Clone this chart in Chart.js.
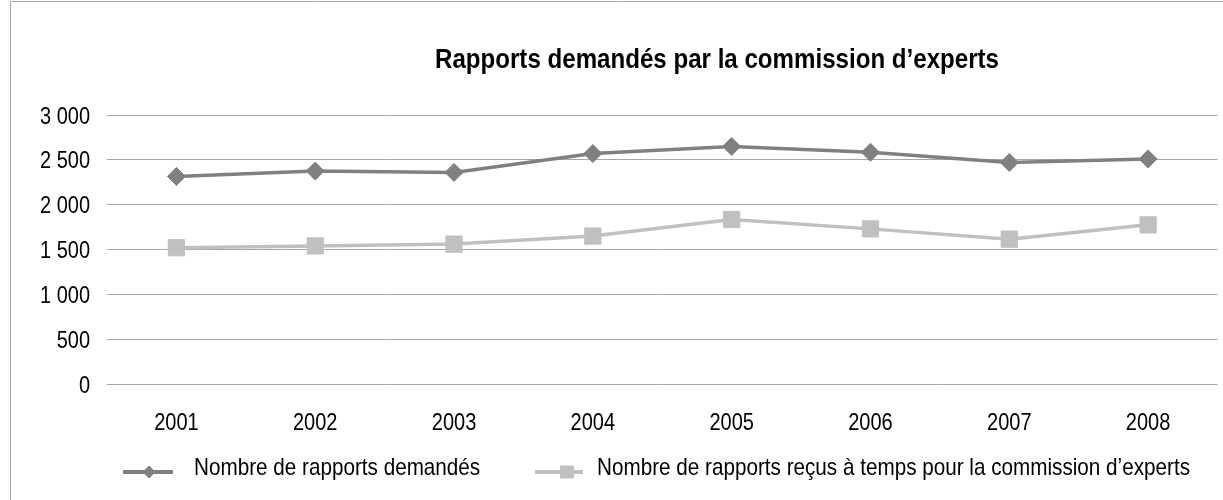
<!DOCTYPE html>
<html><head><meta charset="utf-8">
<script src="https://cdn.jsdelivr.net/npm/chart.js@4.4.0/dist/chart.umd.min.js"></script>
<style>html,body{margin:0;padding:0;overflow:hidden;background:#fff}#wrap{position:relative;width:1230px;height:500px}</style>
</head><body><div id="wrap"><canvas id="c"></canvas></div>
<script>
const FONT = '"Liberation Sans", Arial, sans-serif';
const chartTitle = 'Rapports demandés par la commission d’experts';
const years = ['2001','2002','2003','2004','2005','2006','2007','2008'];
const demandes = [2315, 2375, 2360, 2570, 2650, 2585, 2470, 2510];
const recus = [1520, 1540, 1560, 1650, 1835, 1730, 1615, 1775];
const seriesLabels = ['Nombre de rapports demandés', 'Nombre de rapports reçus à temps pour la commission d’experts'];
const yMin = 0, yMax = 3000, yStep = 500;

function fmt(v){ return String(v).replace(/\B(?=(\d{3})+(?!\d))/g, ' '); }

function narrowText(ctx, text, x, y, align, font, sx){
  ctx.save();
  ctx.font = font;
  ctx.translate(x, y);
  ctx.scale(sx, 1);
  ctx.textAlign = align;
  ctx.textBaseline = 'alphabetic';
  ctx.fillStyle = '#000';
  ctx.fillText(text, 0, 0);
  ctx.restore();
}
function fitScale(ctx, text, font, target){
  ctx.save(); ctx.font = font; const w = ctx.measureText(text).width; ctx.restore();
  return target / w;
}

const framePlugin = {
  id: 'frame',
  beforeDraw(chart){
    const ctx = chart.ctx;
    ctx.save();
    ctx.fillStyle = '#fff';
    ctx.fillRect(0,0,chart.width,chart.height);
    ctx.strokeStyle = '#a6a6a6';
    ctx.lineWidth = 1;
    ctx.beginPath();
    ctx.moveTo(10.5, 500); ctx.lineTo(10.5, 1.5); ctx.lineTo(chart.width, 1.5);
    ctx.stroke();
    ctx.restore();
  },
  afterDraw(chart){
    const ctx = chart.ctx;
    const tickFont = '24px ' + FONT;
    const sxTick = fitScale(ctx, '3 000', tickFont, 50);
    // y tick labels from the library's scale
    const ys = chart.scales.y;
    ys.ticks.forEach(t => {
      const py = ys.getPixelForValue(t.value);
      narrowText(ctx, fmt(t.value), 90, py + 8.5, 'right', tickFont, sxTick);
    });
    const xs = chart.scales.x;
    xs.ticks.forEach((t, i) => {
      const px = xs.getPixelForTick(i);
      narrowText(ctx, chart.data.labels[t.value], px, 430, 'center', tickFont, sxTick);
    });
    // title
    const tFont = 'bold 27px ' + FONT;
    const sxT = fitScale(ctx, chartTitle, tFont, 564);
    narrowText(ctx, chartTitle, 717, 68, 'center', tFont, sxT);
    // legend
    const lFont = '24px ' + FONT;
    const sxL = fitScale(ctx, seriesLabels[1], lFont, 593);
    const items = [
      {x0: 123, x1: 173, cx: 149, tx: 194},
      {x0: 535, x1: 583, cx: 567, tx: 597}
    ];
    chart.data.datasets.forEach((ds, i) => {
      const it = items[i];
      const y = 472;
      ctx.save();
      ctx.strokeStyle = ds.borderColor;
      ctx.lineWidth = 4;
      ctx.beginPath(); ctx.moveTo(it.x0, y); ctx.lineTo(it.x1, y); ctx.stroke();
      ctx.fillStyle = ds.pointBackgroundColor;
      const cx = it.cx;
      ctx.beginPath();
      if (ds.pointStyle === 'rectRot') {
        const r = 6.5;
        ctx.moveTo(cx - r, y); ctx.lineTo(cx, y - r); ctx.lineTo(cx + r, y); ctx.lineTo(cx, y + r); ctx.closePath();
      } else {
        ctx.rect(cx - 7, y - 6.5, 14, 13);
      }
      ctx.fill();
      ctx.restore();
      narrowText(ctx, seriesLabels[i], it.tx, 475, 'left', lFont, sxL);
    });
  }
};

new Chart(document.getElementById('c'), {
  type: 'line',
  data: {
    labels: years,
    datasets: [
      { label: seriesLabels[0], data: demandes, borderColor: '#808080', backgroundColor: '#808080',
        pointBackgroundColor: '#808080', pointBorderColor: '#808080', pointStyle: 'rectRot',
        pointRadius: 9, pointBorderWidth: 1, borderWidth: 3.5, tension: 0, fill: false },
      { label: seriesLabels[1], data: recus, borderColor: '#c0c0c0', backgroundColor: '#c0c0c0',
        pointBackgroundColor: '#c0c0c0', pointBorderColor: '#c0c0c0', pointStyle: 'rect',
        pointRadius: 11.5, pointBorderWidth: 1, borderWidth: 3.5, tension: 0, fill: false }
    ]
  },
  options: {
    responsive: true, maintainAspectRatio: false, animation: false, devicePixelRatio: 1,
    layout: { padding: { left: 10, right: 3, top: 115, bottom: 56 } },
    plugins: { legend: { display: false }, title: { display: false }, tooltip: { enabled: false } },
    scales: {
      x: {
        offset: true,
        grid: { display: false, drawTicks: false },
        border: { display: false },
        ticks: { display: false, maxRotation: 0, autoSkip: false },
        afterFit(s){ s.height = 60; }
      },
      y: {
        min: yMin, max: yMax,
        grid: { color: '#a6a6a6', lineWidth: 1, drawTicks: false },
        border: { display: false },
        ticks: { display: false, stepSize: yStep, callback: v => fmt(v) },
        afterFit(s){ s.width = 97; }
      }
    }
  },
  plugins: [framePlugin]
});
</script>
</body></html>
